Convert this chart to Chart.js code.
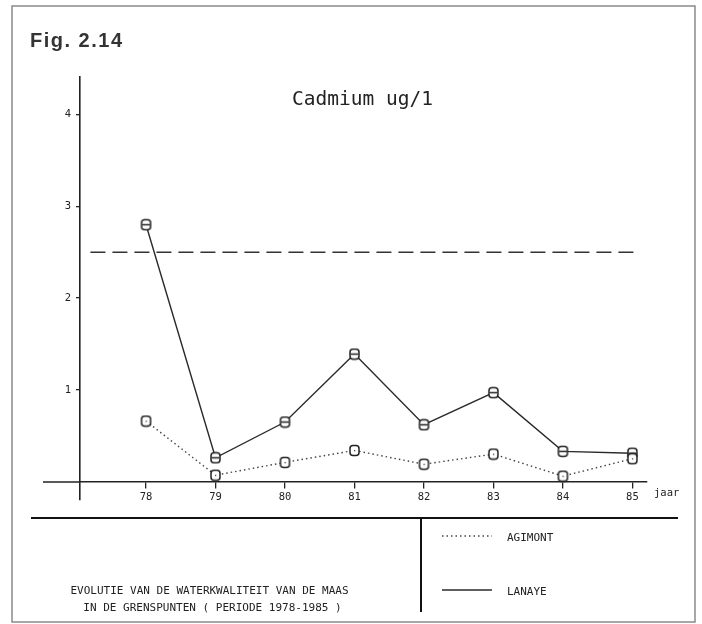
<!DOCTYPE html>
<html>
<head>
<meta charset="utf-8">
<script src="https://cdn.jsdelivr.net/npm/chart.js@4/dist/chart.umd.min.js"></script>
<style>
  html, body { margin: 0; padding: 0; background: #fff; }
  #c { display: block; }
</style>
</head>
<body>
<canvas id="c" width="702" height="624"></canvas>
<script>
// Cadmium (ug/l) in the Maas at the two border stations, 1978-1985
const years = [78, 79, 80, 81, 82, 83, 84, 85];
const yearLabels = ['78', '79', '80', '81', '82', '83', '84', '85'];
const agimont = [0.66, 0.07, 0.21, 0.34, 0.19, 0.30, 0.06, 0.25];
const lanaye = [2.80, 0.26, 0.65, 1.39, 0.62, 0.97, 0.33, 0.31];
const yTicks = [1, 2, 3, 4];
const yTickLabels = ['1', '2', '3', '4'];
const normValue = 2.5;          // norm line
const normSpan = [77.2, 85.1];  // years covered by the norm line
const seriesNames = ['AGIMONT', 'LANAYE'];

const INK = '#222';
const MONO = '"DejaVu Sans Mono", "Liberation Mono", monospace';

// small plotter-style marker glyphs
function makeMarker(kind) {
  const c = document.createElement('canvas');
  c.width = 13; c.height = 13;
  const g = c.getContext('2d');
  g.lineWidth = 1.5;
  g.strokeStyle = '#222';
  g.fillStyle = '#fff';
  g.beginPath();
  g.roundRect(2, 1.5, 9, 10, 3);
  g.fill();
  g.stroke();
  if (kind === 'dot') {
    g.fillStyle = '#444';
    g.fillRect(6, 6, 1.3, 1.3);
  } else {
    g.beginPath();
    g.moveTo(2.5, 6.5);
    g.lineTo(10.5, 6.5);
    g.stroke();
  }
  return c;
}
const markerAgimont = makeMarker('dot');
const markerLanaye = makeMarker('bar');

const toPoints = vals => vals.map((v, i) => ({ x: years[i], y: v }));

// frame, headings, legend box and caption
const decorations = {
  id: 'decorations',
  beforeDraw(chart) {
    const ctx = chart.ctx;
    ctx.save();
    ctx.fillStyle = '#fff';
    ctx.fillRect(0, 0, chart.width, chart.height);
    ctx.strokeStyle = '#8a8a8a';
    ctx.lineWidth = 1.5;
    ctx.strokeRect(12, 6, 683, 616);
    ctx.restore();
  },
  afterDraw(chart) {
    const ctx = chart.ctx;
    const xs = chart.scales.x, ys = chart.scales.y;
    ctx.save();

    // the horizontal axis continues a little to the left of the vertical one
    const y0 = Math.round(ys.getPixelForValue(0));
    ctx.strokeStyle = INK;
    ctx.lineWidth = 1.6;
    ctx.beginPath();
    ctx.moveTo(43, y0);
    ctx.lineTo(xs.left, y0);
    ctx.stroke();

    ctx.fillStyle = '#333';
    ctx.font = 'bold 20px "Liberation Sans", Arial, sans-serif';
    ctx.letterSpacing = '1.5px';
    ctx.textAlign = 'left';
    ctx.textBaseline = 'alphabetic';
    ctx.fillText('Fig. 2.14', 30, 46.5);
    ctx.letterSpacing = '0px';

    ctx.fillStyle = INK;
    ctx.font = '19.5px ' + MONO;
    ctx.textAlign = 'center';
    ctx.fillText('Cadmium ug/1', 362.5, 105);

    ctx.font = '10.5px ' + MONO;
    ctx.textAlign = 'left';
    ctx.fillText('jaar', 654, 496);

    // lower box
    ctx.strokeStyle = '#111';
    ctx.lineWidth = 2;
    ctx.beginPath();
    ctx.moveTo(31, 518); ctx.lineTo(678, 518);
    ctx.moveTo(421, 518); ctx.lineTo(421, 612);
    ctx.stroke();

    // legend built from the series styles
    const rows = [536, 590];
    chart.data.datasets.forEach((ds, i) => {
      if (!ds.label) return;
      const y = rows[i];
      ctx.strokeStyle = ds.borderColor;
      ctx.lineWidth = ds.borderWidth;
      ctx.setLineDash(ds.borderDash || []);
      ctx.beginPath();
      ctx.moveTo(442, y); ctx.lineTo(492, y);
      ctx.stroke();
      ctx.setLineDash([]);
      ctx.fillStyle = INK;
      ctx.font = '11px ' + MONO;
      ctx.textAlign = 'left';
      ctx.fillText(ds.label, 507, y + 5);
    });

    // caption
    ctx.fillStyle = INK;
    ctx.font = '11px ' + MONO;
    ctx.textAlign = 'center';
    ctx.fillText('EVOLUTIE VAN DE WATERKWALITEIT VAN DE MAAS', 209.5, 594);
    ctx.fillText('IN DE GRENSPUNTEN ( PERIODE 1978-1985 )', 212.5, 611);
    ctx.restore();
  }
};

new Chart(document.getElementById('c'), {
  type: 'line',
  data: {
    datasets: [
      {
        label: seriesNames[0],
        data: toPoints(agimont),
        borderColor: '#444',
        borderWidth: 1.4,
        borderDash: [1.5, 3],
        pointStyle: markerAgimont,
        tension: 0
      },
      {
        label: seriesNames[1],
        data: toPoints(lanaye),
        borderColor: '#2a2a2a',
        borderWidth: 1.4,
        pointStyle: markerLanaye,
        tension: 0
      },
      {
        label: '',
        data: [{ x: normSpan[0], y: normValue }, { x: normSpan[1], y: normValue }],
        borderColor: '#333',
        borderWidth: 1.5,
        borderDash: [15, 7],
        pointRadius: 0,
        tension: 0
      }
    ]
  },
  options: {
    responsive: false,
    animation: false,
    devicePixelRatio: 1,
    layout: { padding: { left: 43, right: 55, top: 77, bottom: 124 } },
    plugins: {
      legend: { display: false },
      tooltip: { enabled: false },
      title: { display: false }
    },
    scales: {
      x: {
        type: 'linear',
        min: 77.05,
        max: 85.21,
        position: { y: 0 },
        afterBuildTicks: s => { s.ticks = years.map(v => ({ value: v })); },
        grid: { drawOnChartArea: false, drawTicks: true, tickLength: 6, color: INK, lineWidth: 1.3 },
        border: { display: true, color: INK, width: 1.6 },
        ticks: {
          color: INK,
          padding: 3,
          maxRotation: 0,
          autoSkip: false,
          font: { family: MONO, size: 10.5 },
          callback: (v, i) => yearLabels[i]
        }
      },
      y: {
        type: 'linear',
        min: -0.2,
        max: 4.41,
        position: 'left',
        afterFit: s => { s.width = 37; },
        afterBuildTicks: s => { s.ticks = yTicks.map(v => ({ value: v })); },
        grid: { drawOnChartArea: false, drawTicks: true, tickLength: 4, color: INK, lineWidth: 1.3 },
        border: { display: true, color: INK, width: 1.6 },
        ticks: {
          color: INK,
          padding: 5,
          autoSkip: false,
          font: { family: MONO, size: 10.5 },
          callback: (v, i) => yTickLabels[i]
        }
      }
    }
  },
  plugins: [decorations]
});
</script>
</body>
</html>
